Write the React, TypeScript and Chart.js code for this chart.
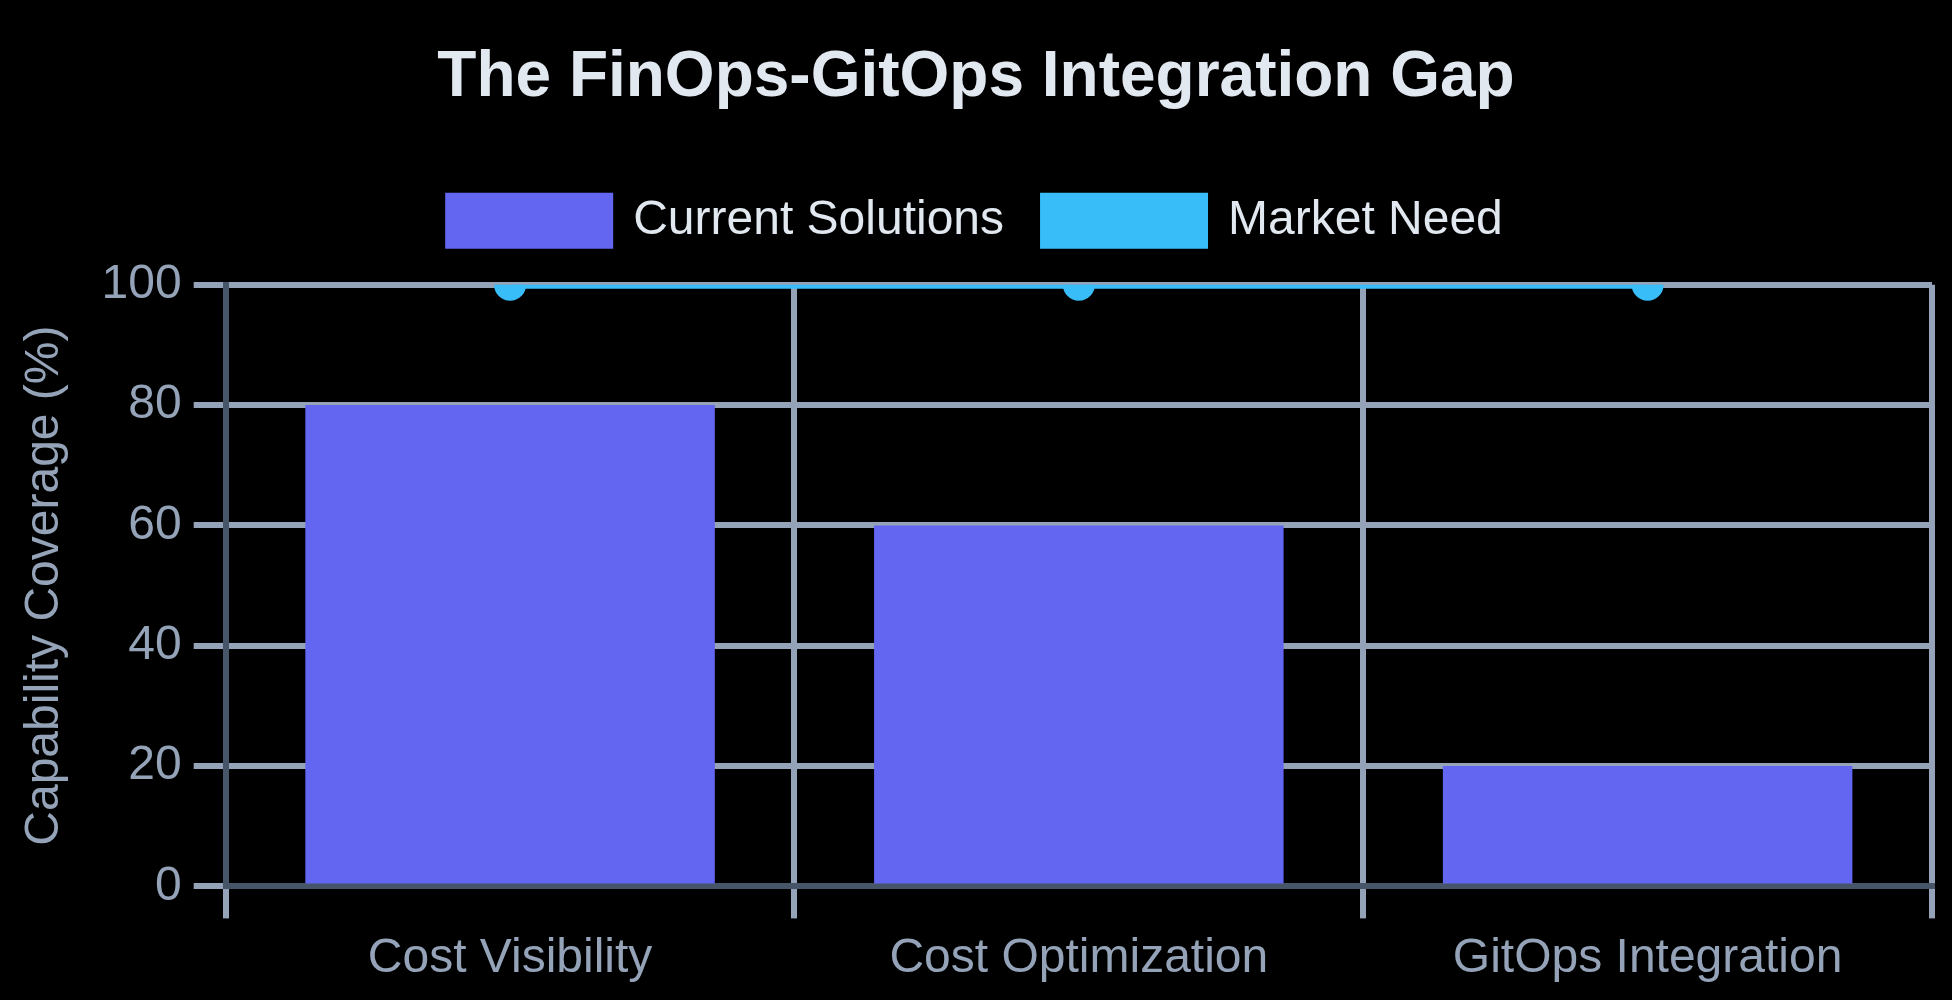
import React, { useEffect, useRef } from 'react';
import { Chart, registerables } from 'chart.js';

Chart.register(...registerables);

const categories = ['Cost Visibility', 'Cost Optimization', 'GitOps Integration'];
const currentSolutions = [80, 60, 20];
const marketNeed = [100, 100, 100];
const titleText = 'The FinOps-GitOps Integration Gap';
const yAxisTitle = 'Capability Coverage (%)';
const seriesNames = ['Current Solutions', 'Market Need'];

const CSS_W = 488;
const CSS_H = 250;
const SCALE = 4;

const recenterBlocks = {
  id: 'recenterBlocks',
  afterLayout(chart: any) {
    [chart.titleBlock, chart.legend].forEach((b: any) => {
      if (b) {
        b.left = 0;
        b.right = chart.width;
        b.width = chart.width;
      }
    });
  },
};

export default function App() {
  const ref = useRef<HTMLCanvasElement | null>(null);

  useEffect(() => {
    document.body.style.margin = '0';
    document.body.style.background = '#000';
    Chart.defaults.font.family = "'Liberation Sans', Arial, Helvetica, sans-serif";
    const canvas = ref.current;
    if (!canvas) return;
    const baseLabels = (Chart.defaults as any).plugins.legend.labels.generateLabels;
    const chart = new Chart(canvas, {
      type: 'bar',
      data: {
        labels: categories,
        datasets: [
          {
            type: 'bar',
            label: seriesNames[0],
            data: currentSolutions,
            backgroundColor: '#6366F1',
            borderColor: '#6366F1',
            borderWidth: 0,
          },
          {
            type: 'line',
            label: seriesNames[1],
            data: marketNeed,
            backgroundColor: '#38BDF8',
            borderColor: '#38BDF8',
            borderWidth: 2,
            pointRadius: 3,
          },
        ],
      },
      options: {
        responsive: false,
        devicePixelRatio: SCALE,
        animation: false,
        layout: { autoPadding: false, padding: { right: 5 } },
        plugins: {
          title: {
            display: true,
            text: titleText,
            color: '#E2E8F0',
            font: { size: 16, weight: 'bold' },
          },
          legend: {
            labels: {
              color: '#E2E8F0',
              font: { size: 12 },
              generateLabels: (c: any) =>
                baseLabels(c).map((it: any) => ({ ...it, lineWidth: 2, strokeStyle: it.fillStyle })),
            },
          },
        },
        scales: {
          x: {
            grid: { color: '#94A3B8', lineWidth: 1.5 },
            border: { color: '#475569', width: 1.5 },
            ticks: { color: '#94A3B8', font: { size: 12 } },
          },
          y: {
            min: 0,
            max: 100,
            title: { display: true, text: yAxisTitle, color: '#94A3B8', font: { size: 12 } },
            grid: { color: '#94A3B8', lineWidth: 1.5 },
            border: { color: '#475569', width: 1.5 },
            ticks: { color: '#94A3B8', stepSize: 20, font: { size: 12 } },
          },
        },
      },
      plugins: [recenterBlocks],
    } as any);
    return () => chart.destroy();
  }, []);

  return (
    <div style={{ width: CSS_W * SCALE, height: CSS_H * SCALE, overflow: 'hidden', background: '#000' }}>
      <div style={{ transform: `scale(${SCALE})`, transformOrigin: '0 0', width: CSS_W, height: CSS_H }}>
        <canvas ref={ref} width={CSS_W} height={CSS_H} />
      </div>
    </div>
  );
}
